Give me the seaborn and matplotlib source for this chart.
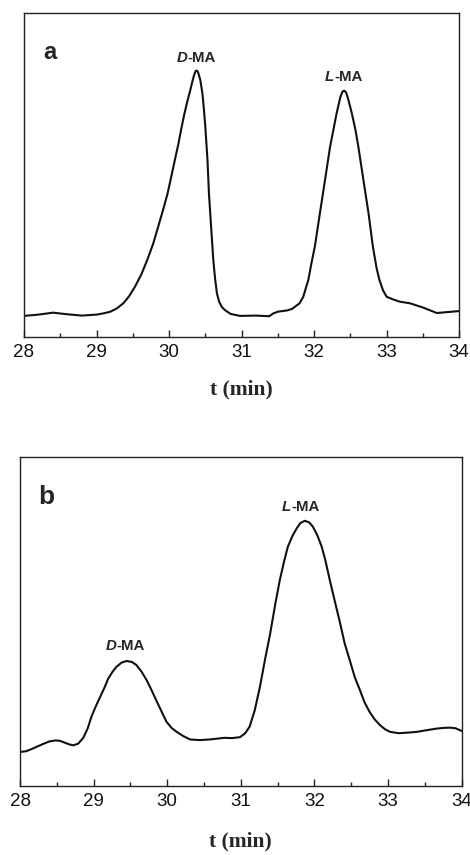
import matplotlib
matplotlib.use("Agg")
import matplotlib.pyplot as plt
from matplotlib.ticker import MultipleLocator
import seaborn as sns

# Chromatogram (a): retention time (min) and detector signal (a.u.)
time_a = [28.00, 28.20, 28.40, 28.60, 28.80, 29.00, 29.10, 29.19, 29.28, 29.37,
          29.45, 29.53, 29.62, 29.70, 29.78, 29.85, 29.92, 29.98, 30.03, 30.08,
          30.13, 30.17, 30.21, 30.25, 30.29, 30.32, 30.345, 30.367, 30.385, 30.40,
          30.43, 30.46, 30.48, 30.50, 30.53, 30.55, 30.58, 30.61, 30.635, 30.66,
          30.69, 30.73, 30.77, 30.85, 30.98, 31.20, 31.38, 31.44, 31.50, 31.53,
          31.63, 31.70, 31.74, 31.80, 31.85, 31.92, 31.96, 32.01, 32.08, 32.15,
          32.22, 32.27, 32.31, 32.36, 32.39, 32.415, 32.44, 32.47, 32.52, 32.57,
          32.61, 32.68, 32.75, 32.81, 32.86, 32.90, 32.95, 33.00, 33.10, 33.18,
          33.32, 33.50, 33.69, 33.85, 34.00]
signal_a = [6.6, 7.0, 7.6, 7.1, 6.7, 7.0, 7.4, 7.9, 8.9, 10.5,
            12.7, 15.6, 19.5, 23.9, 28.8, 34.1, 39.5, 44.4, 49.5, 54.7,
            59.8, 64.5, 68.8, 72.6, 76.0, 78.8, 80.9, 82.2, 82.3, 81.8,
            79.5, 75.3, 70.5, 65.0, 54.7, 44.4, 34.1, 23.9, 18.0, 13.6,
            11.0, 9.3, 8.4, 7.2, 6.6, 6.7, 6.5, 7.4, 7.9, 8.0,
            8.3, 8.8, 9.5, 10.5, 12.5, 17.7, 22.5, 28.0, 38.3, 48.5,
            58.8, 64.5, 69.1, 74.0, 75.8, 76.1, 75.6, 73.5, 69.1, 64.0,
            58.8, 48.5, 38.3, 28.0, 21.5, 17.7, 14.5, 12.5, 11.6, 11.0,
            10.5, 9.2, 7.5, 7.8, 8.1]

# Chromatogram (b)
time_b = [28.00, 28.08, 28.16, 28.24, 28.32, 28.40, 28.48, 28.54, 28.61, 28.67,
          28.72, 28.79, 28.86, 28.92, 28.97, 29.03, 29.09, 29.15, 29.20, 29.26,
          29.31, 29.38, 29.45, 29.52, 29.58, 29.65, 29.72, 29.79, 29.86, 29.93,
          29.99, 30.06, 30.13, 30.22, 30.31, 30.44, 30.58, 30.70, 30.78, 30.88,
          30.99, 31.06, 31.12, 31.19, 31.26, 31.33, 31.40, 31.47, 31.53, 31.59,
          31.64, 31.70, 31.76, 31.81, 31.87, 31.93, 31.98, 32.04, 32.10, 32.15,
          32.21, 32.28, 32.35, 32.41, 32.48, 32.55, 32.62, 32.68, 32.75, 32.82,
          32.89, 32.96, 33.03, 33.15, 33.28, 33.39, 33.52, 33.66, 33.75, 33.84,
          33.92, 34.00]
signal_b = [10.3, 10.5, 11.2, 12.0, 12.8, 13.5, 13.8, 13.7, 13.1, 12.6,
            12.3, 12.8, 14.6, 17.5, 21.0, 24.2, 27.1, 30.0, 32.7, 34.8,
            36.2, 37.5, 38.0, 37.7, 36.8, 34.8, 32.2, 29.0, 25.6, 22.3,
            19.5, 17.6, 16.4, 15.1, 14.1, 13.9, 14.1, 14.4, 14.6, 14.5,
            14.8, 16.0, 18.0, 23.0, 30.1, 38.5, 46.4, 55.5, 62.6, 68.5,
            72.8, 76.0, 78.4, 80.0, 80.7, 80.2, 78.9, 76.3, 72.8, 68.6,
            62.6, 56.0, 49.5, 43.5, 38.3, 33.0, 29.1, 25.5, 22.5, 20.2,
            18.5, 17.2, 16.4, 16.0, 16.2, 16.4, 16.9, 17.4, 17.6, 17.7,
            17.5, 16.7]

# Peak annotations: (enantiomer letter, time, height of label)
peaks_a = [("D", 30.38, 86.3), ("L", 32.40, 80.2)]
peaks_b = [("D", 29.43, 42.5), ("L", 31.81, 85.0)]

panel_letters = ["a", "b"]
x_ticks = [28, 29, 30, 31, 32, 33, 34]

sns.set_style("ticks")
plt.rcParams["font.family"] = ["Liberation Sans", "DejaVu Sans"]

fig = plt.figure(figsize=(4.7, 8.55), dpi=100)
ax_a = fig.add_axes([0.051, 0.6055, 0.926, 0.379])
ax_b = fig.add_axes([0.0426, 0.081, 0.9394, 0.384])

panels = [
    (ax_a, time_a, signal_a, peaks_a, panel_letters[0], 17, 13),
    (ax_b, time_b, signal_b, peaks_b, panel_letters[1], 19, 16),
]

for ax, t, s, peaks, letter, letter_size, labelpad in panels:
    sns.lineplot(x=t, y=s, ax=ax, color="#111111", linewidth=1.5, sort=False)
    ax.set_xlim(28, 34)
    ax.set_ylim(0, 100)
    ax.set_xticks(x_ticks)
    ax.xaxis.set_minor_locator(MultipleLocator(0.5))
    ax.set_yticks([])
    ax.set_ylabel("")
    for sp in ax.spines.values():
        sp.set_visible(True)
        sp.set_linewidth(1.0)
        sp.set_color("#222222")
    ax.tick_params(axis="x", which="major", direction="in", length=5, width=1.0,
                   labelsize=13.5, pad=5, colors="#222222", labelcolor="#111111")
    ax.tick_params(axis="x", which="minor", direction="in", length=3, width=1.0,
                   colors="#222222")
    ax.set_xlabel("t (min)", fontsize=15.5, fontweight="bold",
                  family="Liberation Serif", labelpad=labelpad)
    ax.text(0.06, 0.88, letter, transform=ax.transAxes, fontsize=letter_size,
            fontweight="bold", ha="center", va="center")
    for enantiomer, pt, py in peaks:
        ax.annotate(enantiomer, xy=(pt, py), xytext=(-6.5, 0),
                    textcoords="offset points", ha="right", va="center",
                    fontsize=10.8, fontweight="bold", fontstyle="italic")
        ax.annotate("-MA", xy=(pt, py), xytext=(-6.5, 0),
                    textcoords="offset points", ha="left", va="center",
                    fontsize=10.8, fontweight="bold")

fig.savefig("out.png", dpi=100)
